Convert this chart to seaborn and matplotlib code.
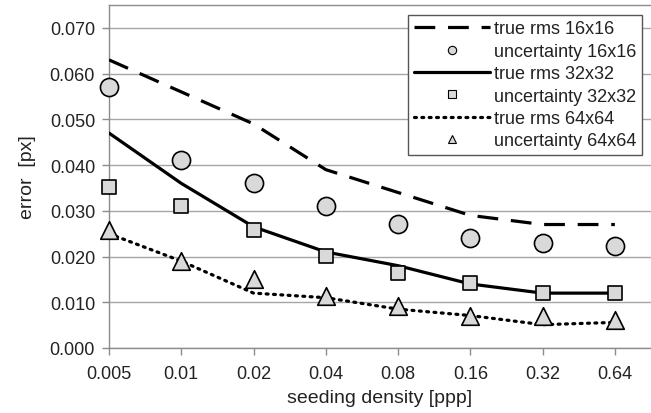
import matplotlib
matplotlib.use("Agg")
import matplotlib.pyplot as plt
from matplotlib.lines import Line2D
import pandas as pd
import seaborn as sns

# Data
density_labels = ["0.005", "0.01", "0.02", "0.04", "0.08", "0.16", "0.32", "0.64"]

rms_16 = [0.063, 0.056, 0.049, 0.039, 0.034, 0.029, 0.027, 0.027]
unc_16 = [0.0571, 0.041, 0.036, 0.031, 0.0271, 0.024, 0.0229, 0.0223]

rms_32 = [0.047, 0.036, 0.0265, 0.021, 0.018, 0.014, 0.012, 0.012]
unc_32 = [0.0351, 0.031, 0.0259, 0.0202, 0.0163, 0.0142, 0.012, 0.012]

rms_64 = [0.025, 0.019, 0.012, 0.011, 0.0085, 0.0071, 0.0051, 0.0056]
unc_64 = [0.0257, 0.019, 0.0151, 0.0113, 0.0091, 0.0069, 0.0069, 0.0062]

sns.set_style("white")
plt.rcParams["font.family"] = ["Liberation Sans", "DejaVu Sans"]

df = pd.DataFrame({
    "pos": range(len(density_labels)),
    "rms_16": rms_16, "unc_16": unc_16,
    "rms_32": rms_32, "unc_32": unc_32,
    "rms_64": rms_64, "unc_64": unc_64,
})

fig = plt.figure(figsize=(6.51, 4.14), dpi=100)
ax = fig.add_axes([109 / 651, 65 / 414, 542 / 651, 343 / 414])

fill = "#d9d9d9"
lw = 2.3
dashed = (0, (6.5, 4))
dotted = (0, (0.6, 1.7))

# true rms lines
sns.lineplot(data=df, x="pos", y="rms_16", ax=ax, color="black",
             linewidth=lw, linestyle=dashed, zorder=3)
sns.lineplot(data=df, x="pos", y="rms_32", ax=ax, color="black",
             linewidth=lw, zorder=3)
sns.lineplot(data=df, x="pos", y="rms_64", ax=ax, color="black",
             linewidth=lw, linestyle=dotted,
             dash_capstyle="round", zorder=3)

# uncertainty markers
sns.scatterplot(data=df, x="pos", y="unc_16", ax=ax, marker="o", s=170,
                color=fill, edgecolor="black", linewidth=1.2, zorder=4,
                clip_on=False)
sns.scatterplot(data=df, x="pos", y="unc_32", ax=ax, marker="s", s=110,
                color=fill, edgecolor="black", linewidth=1.2, zorder=4,
                clip_on=False)
sns.scatterplot(data=df, x="pos", y="unc_64", ax=ax, marker="^", s=160,
                color=fill, edgecolor="black", linewidth=1.2, zorder=4,
                clip_on=False)

ax.set_xlim(0, 7.5)
ax.set_ylim(0, 0.075)
ax.set_xticks(range(len(density_labels)))
ax.set_xticklabels(density_labels)
ax.set_yticks([i * 0.01 for i in range(8)])
ax.set_yticklabels([f"{i * 0.01:.3f}" for i in range(8)])

ax.yaxis.grid(True, color="#a6a6a6", linewidth=1)
ax.set_axisbelow(True)

for side in ["left", "bottom", "top"]:
    ax.spines[side].set_visible(True)
    ax.spines[side].set_color("#8c8c8c")
    ax.spines[side].set_linewidth(1)
ax.spines["right"].set_visible(False)

ax.tick_params(axis="both", direction="out", length=5, width=1,
               color="#8c8c8c", labelsize=13, labelcolor="#222222",
               left=True, bottom=True)
ax.tick_params(axis="x", pad=7)
ax.tick_params(axis="y", pad=5)

ax.set_xlabel("seeding density [ppp]", fontsize=14, color="#222222", labelpad=5)
ax.set_ylabel("error  [px]", fontsize=14, color="#222222", labelpad=10)

handles = [
    Line2D([], [], color="black", linewidth=lw, linestyle=dashed),
    Line2D([], [], linestyle="none", marker="o", markersize=6,
           markerfacecolor=fill, markeredgecolor="black", markeredgewidth=0.8),
    Line2D([], [], color="black", linewidth=lw),
    Line2D([], [], linestyle="none", marker="s", markersize=5.5,
           markerfacecolor=fill, markeredgecolor="black", markeredgewidth=0.8),
    Line2D([], [], color="black", linewidth=lw, linestyle=dotted,
           dash_capstyle="round"),
    Line2D([], [], linestyle="none", marker="^", markersize=6,
           markerfacecolor=fill, markeredgecolor="black", markeredgewidth=0.8),
]
labels = ["true rms 16x16", "uncertainty 16x16", "true rms 32x32",
          "uncertainty 32x32", "true rms 64x64", "uncertainty 64x64"]

leg = ax.legend(handles, labels, loc="upper right",
                bbox_to_anchor=((642 - 109) / 542, 1 - 10 / 343),
                fontsize=13, frameon=True, fancybox=False, framealpha=1,
                edgecolor="#555555", handlelength=4.2, handletextpad=0.25,
                labelspacing=0.3, borderpad=0.3, borderaxespad=0)
leg.get_frame().set_linewidth(1)
for t in leg.get_texts():
    t.set_color("#222222")

fig.savefig("out.png", dpi=100)
